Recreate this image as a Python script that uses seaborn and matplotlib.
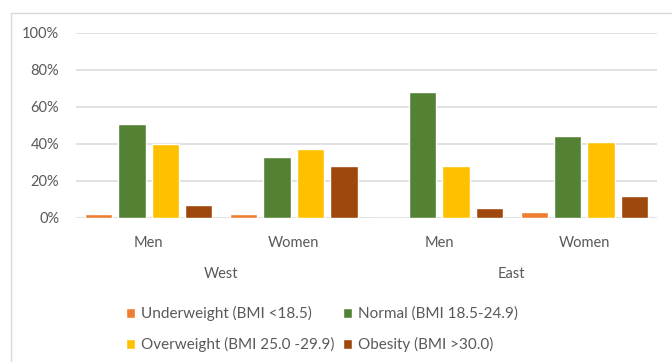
import pandas as pd
import numpy as np
import matplotlib.pyplot as plt
import seaborn as sns
from matplotlib.patches import Rectangle
from matplotlib.ticker import PercentFormatter
import matplotlib.transforms as mtransforms

# --- Data ---
regions = ["West", "West", "East", "East"]
sexes = ["Men", "Women", "Men", "Women"]
bmi_classes = ["Underweight (BMI <18.5)", "Normal (BMI 18.5-24.9)",
               "Overweight (BMI 25.0 -29.9)", "Obesity (BMI >30.0)"]
underweight = [2, 2, 0, 3]
normal = [51, 33, 68, 44]
overweight = [40, 37, 28, 41]
obesity = [7, 28, 5, 12]

colors = ["#ED7D31", "#548235", "#FFC000", "#9E480E"]
TEXT = "#595959"
GRID = "#D9D9D9"
FS = 10.5

# --- Build long table ---
groups = [f"{r} {s}" for r, s in zip(regions, sexes)]
rows = []
for cls, vals in zip(bmi_classes, [underweight, normal, overweight, obesity]):
    for g, v in zip(groups, vals):
        rows.append({"group": g, "bmi": cls, "pct": v})
df = pd.DataFrame(rows)

sns.set_style("white")
plt.rcParams["font.family"] = ["Lato", "DejaVu Sans"]

fig = plt.figure(figsize=(6.72, 3.62), dpi=100)
ax = fig.add_axes([76 / 672, 1 - 217.7 / 362, (657 - 76) / 672, (217.7 - 33) / 362])

sns.barplot(data=df, x="group", y="pct", hue="bmi", order=groups,
            hue_order=bmi_classes, palette=colors, width=0.92, gap=0.18,
            saturation=1, ax=ax, legend=True)

ax.set_ylim(0, 100)
ax.set_xlim(-0.5, 3.5)
ax.set_yticks(np.arange(0, 101, 20))
ax.yaxis.set_major_formatter(PercentFormatter(decimals=0))
ax.grid(axis="y", color=GRID, linewidth=1.1)
ax.set_axisbelow(True)
for s in ax.spines.values():
    s.set_visible(False)
ax.set_xlabel("")
ax.set_ylabel("")
ax.set_xticks(range(len(groups)))
ax.set_xticklabels(sexes)
ax.tick_params(axis="x", length=0, pad=13, labelsize=FS, colors=TEXT)
ax.tick_params(axis="y", length=0, pad=12, labelsize=FS, colors=TEXT)

# Region labels under the pairs
trans = mtransforms.blended_transform_factory(ax.transData, fig.transFigure)
for i in range(0, len(groups), 2):
    ax.text(i + 0.5, 1 - 274 / 362, regions[i], transform=trans,
            ha="center", va="center", fontsize=FS, color=TEXT)

# Legend, row-wise order
handles, labels = ax.get_legend_handles_labels()
ax.get_legend().remove()
order = [0, 2, 1, 3]
fig.legend([handles[i] for i in order], [labels[i] for i in order],
           ncol=2, loc="upper left", bbox_to_anchor=(126 / 672, 1 - 306 / 362),
           frameon=False, fontsize=11, labelcolor=TEXT, handlelength=0.6,
           handleheight=0.6, handletextpad=0.35, columnspacing=0.6,
           labelspacing=1.05, borderpad=0, borderaxespad=0)

# Chart area border (cropped at right and bottom)
fig.add_artist(Rectangle((11 / 672, -0.2), 1.2, 1.2 - 13 / 362, transform=fig.transFigure,
                         fill=False, edgecolor=GRID, linewidth=1))

plt.savefig("out.png", dpi=100)
